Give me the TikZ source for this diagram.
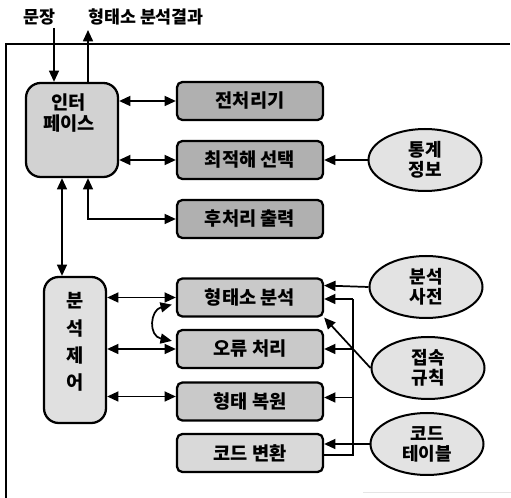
\documentclass[tikz,border=0pt]{standalone}
\usepackage{fontspec}
\setmainfont{Noto Sans CJK KR}
\usetikzlibrary{arrows.meta,shapes.geometric}
\begin{document}
\begin{tikzpicture}[x=0.75pt,y=-0.75pt,
  line width=1.3pt,
  >={Triangle[length=8.5pt,width=7.5pt]},
  boxtext/.style={font=\fontsize{14}{16}\selectfont\bfseries},
  sbox/.style={draw, line width=1.7pt, rounded corners=4pt, inner sep=0pt,
    minimum width=146*0.75pt, minimum height=38*0.75pt, boxtext},
  darkbox/.style={sbox, fill=gray!62},
  midbox/.style={sbox, fill=gray!42},
  ctrlbox/.style={draw, line width=1.7pt, rounded corners=11pt, inner sep=0pt},
  oval/.style={draw, ellipse, line width=1.5pt, fill=gray!22, inner sep=0pt,
    minimum width=113*0.75pt, minimum height=62*0.75pt, align=center,
    font=\fontsize{13.5}{15}\selectfont\bfseries},
  toplabel/.style={font=\fontsize{13}{15}\selectfont\bfseries},
]
\useasboundingbox (0,0) rectangle (511,498);

% frame
\draw (6,498) -- (6,44) -- (510,44);
\draw[gray!20, line width=0.6pt] (363,492) -- (511,492);

% top labels
\node[toplabel] (sent) at (39,17) {문장};
\node[toplabel] (res) at (146,17) {형태소 분석결과};

% interface and control
\node[ctrlbox, fill=gray!35, minimum width=92*0.75pt, minimum height=94*0.75pt] (intf) at (72,130) {};
\node[boxtext, align=center] (intft) at (69,113) {인터\\페이스};
\node[ctrlbox, fill=gray!24, minimum width=62*0.75pt, minimum height=146*0.75pt] (ctrl) at (75,350) {};
\node[boxtext, align=center, font=\fontsize{14}{20.5}\selectfont\bfseries] (ctrlt) at (75,342) {분\\석\\제\\어};

% module boxes
\node[darkbox] (pre)  at (250,101)   {전처리기};
\node[darkbox] (opt)  at (250,160)   {최적해 선택};
\node[darkbox] (post) at (250,219)   {후처리 출력};
\node[midbox]  (morph) at (250,297.5) {형태소 분석};
\node[midbox]  (err)  at (250,349)   {오류 처리};
\node[midbox]  (rest) at (250,401.5) {형태 복원};
\node[sbox, fill=gray!30] (code) at (250,453) {코드 변환};

% ellipses
\node[oval] (stat)  at (425,160) {통계\\정보};
\node[oval] (dict)  at (426,287) {분석\\사전};
\node[oval] (rule)  at (428,368) {접속\\규칙};
\node[oval] (codet) at (427,444) {코드\\테이블};

% named coordinates
\coordinate (inA) at (54,28);
\coordinate (outA) at (88,30);
\coordinate (cx) at (62,0);
\coordinate (busT) at (353,299);
\coordinate (busB) at (353,455);

% connectors
\draw[->] (inA) -- (inA |- intf.north);
\draw[->] (outA |- intf.north) -- (outA);
\draw[<->] (intf.east |- pre) -- (pre.west);
\draw[<->] (intf.east |- opt) -- (opt.west);
\draw[<->] (intf.south -| outA) |- (post.west);
\draw[<->] (intf.south -| cx) -- (ctrl.north -| cx);
\draw[->] (stat.west) -- (opt.east);

\draw[<->] (ctrl.east |- morph) -- (morph.west);
\draw[<->] (ctrl.east |- err) -- (err.west);
\draw[<->] ([shift={(0,-5)}]ctrl.east |- rest) -- ([shift={(0,-5)}]rest.west);
\draw[<->] ([shift={(-4,-13)}]morph.south west) .. controls (150,310) and (148,336) .. ([shift={(-4,12)}]err.north west);

\draw[->] (dict.west) -- ([shift={(0,-12)}]morph.east);
\draw[->] (rule.west) -- (morph.south east);
\draw[->] (codet.west) -- (code.east |- codet);
\draw (code.east |- busB) -- (busB) -- (busT);
\draw[->] (busT) -- (morph.east |- busT);
\draw[->] (busT |- err) -- (err.east);
\draw[->] ([shift={(0,-4)}]busT |- rest) -- ([shift={(0,-4)}]rest.east);
\end{tikzpicture}
\end{document}
